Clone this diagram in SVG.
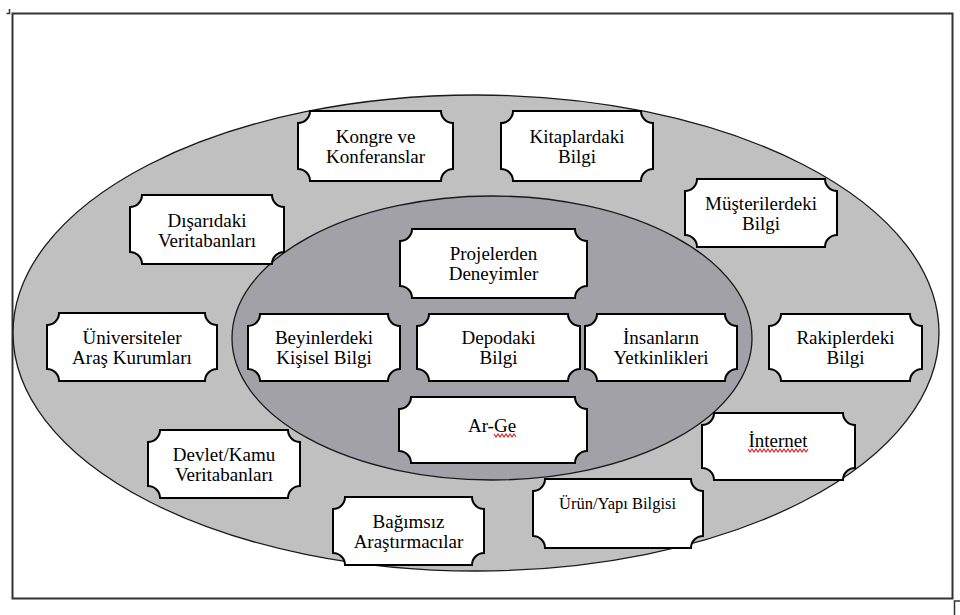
<svg xmlns="http://www.w3.org/2000/svg" width="960" height="615" viewBox="0 0 960 615">
<style>
.bg{fill:#ffffff}
.frame{fill:none;stroke:#333;stroke-width:2}
.outer{fill:#c0c0c0;stroke:#1a1a1a;stroke-width:1.3}
.inner{fill:#a2a1a7;stroke:#1a1a1a;stroke-width:1.3}
.node path{fill:#fff;stroke:#000;stroke-width:2}
.node text{font-family:"Liberation Serif","Times New Roman",serif;font-size:19px;fill:#000;text-anchor:middle}
.sq{fill:none;stroke:#e02020;stroke-width:1.2}
</style>
<rect class="bg" x="0" y="0" width="960" height="615"/>
<g id="frame">
<rect class="frame" x="12.5" y="13.5" width="940" height="585"/>
<path d="M9.5 9 V13.5 H6.5" fill="none" stroke="#333" stroke-width="1.5"/>
<rect x="954.5" y="601" width="10" height="20" fill="none" stroke="#333" stroke-width="1.5"/>
</g>
<g id="regions">
<ellipse class="outer" cx="476" cy="333" rx="463" ry="238"/>
<ellipse class="inner" cx="492" cy="338" rx="260" ry="142"/>
</g>
<g id="connectors"/>
<g id="n-kongre" class="node">
<path d="M310 111 H441 A12 12 0 0 0 453 123 V169 A12 12 0 0 0 441 181 H310 A12 12 0 0 0 298 169 V123 A12 12 0 0 0 310 111 Z"/>
<text x="375.5" y="142.5">Kongre ve</text><text x="375.5" y="162.5">Konferanslar</text>
</g>
<g id="n-kitap" class="node">
<path d="M513 111 H641 A12 12 0 0 0 653 123 V169 A12 12 0 0 0 641 181 H513 A12 12 0 0 0 501 169 V123 A12 12 0 0 0 513 111 Z"/>
<text x="577" y="142.5">Kitaplardaki</text><text x="577" y="162.5">Bilgi</text>
</g>
<g id="n-musteri" class="node">
<path d="M697 179 H825 A12 12 0 0 0 837 191 V235 A12 12 0 0 0 825 247 H697 A12 12 0 0 0 685 235 V191 A12 12 0 0 0 697 179 Z"/>
<text x="761" y="209.5">Müşterilerdeki</text><text x="761" y="229.5">Bilgi</text>
</g>
<g id="n-disaridaki" class="node">
<path d="M142 195 H272 A12 12 0 0 0 284 207 V252 A12 12 0 0 0 272 264 H142 A12 12 0 0 0 130 252 V207 A12 12 0 0 0 142 195 Z"/>
<text x="207" y="226.5">Dışarıdaki</text><text x="207" y="246.5">Veritabanları</text>
</g>
<g id="n-projeler" class="node">
<path d="M412 229 H575 A12 12 0 0 0 587 241 V286 A12 12 0 0 0 575 298 H412 A12 12 0 0 0 400 286 V241 A12 12 0 0 0 412 229 Z"/>
<text x="493.5" y="260">Projelerden</text><text x="493.5" y="280">Deneyimler</text>
</g>
<g id="n-universite" class="node">
<path d="M59 313 H205 A12 12 0 0 0 217 325 V369 A12 12 0 0 0 205 381 H59 A12 12 0 0 0 47 369 V325 A12 12 0 0 0 59 313 Z"/>
<text x="132" y="343.5">Üniversiteler</text><text x="132" y="363.5">Araş Kurumları</text>
</g>
<g id="n-beyin" class="node">
<path d="M260 314 H388 A12 12 0 0 0 400 326 V369 A12 12 0 0 0 388 381 H260 A12 12 0 0 0 248 369 V326 A12 12 0 0 0 260 314 Z"/>
<text x="324" y="344">Beyinlerdeki</text><text x="324" y="364">Kişisel Bilgi</text>
</g>
<g id="n-depo" class="node">
<path d="M429 314 H568 A12 12 0 0 0 580 326 V369 A12 12 0 0 0 568 381 H429 A12 12 0 0 0 417 369 V326 A12 12 0 0 0 429 314 Z"/>
<text x="498.5" y="344">Depodaki</text><text x="498.5" y="364">Bilgi</text>
</g>
<g id="n-insan" class="node">
<path d="M597 314 H725 A12 12 0 0 0 737 326 V369 A12 12 0 0 0 725 381 H597 A12 12 0 0 0 585 369 V326 A12 12 0 0 0 597 314 Z"/>
<text x="661" y="344">İnsanların</text><text x="661" y="364">Yetkinlikleri</text>
</g>
<g id="n-rakip" class="node">
<path d="M781 314 H910 A12 12 0 0 0 922 326 V369 A12 12 0 0 0 910 381 H781 A12 12 0 0 0 769 369 V326 A12 12 0 0 0 781 314 Z"/>
<text x="845.5" y="344">Rakiplerdeki</text><text x="845.5" y="364">Bilgi</text>
</g>
<g id="n-arge" class="node">
<path d="M411 397 H575 A12 12 0 0 0 587 409 V451 A12 12 0 0 0 575 463 H411 A12 12 0 0 0 399 451 V409 A12 12 0 0 0 411 397 Z"/>
<text x="492" y="432">Ar-Ge</text>
<polyline class="sq" points="494,434 496,437 498,434 500,437 502,434 504,437 506,434 508,437 510,434 512,437 514,434 516,437"/>
</g>
<g id="n-devlet" class="node">
<path d="M160 430 H288 A12 12 0 0 0 300 442 V486 A12 12 0 0 0 288 498 H160 A12 12 0 0 0 148 486 V442 A12 12 0 0 0 160 430 Z"/>
<text x="224" y="460.5">Devlet/Kamu</text><text x="224" y="480.5">Veritabanları</text>
</g>
<g id="n-internet" class="node">
<path d="M714 413 H843 A12 12 0 0 0 855 425 V468 A12 12 0 0 0 843 480 H714 A12 12 0 0 0 702 468 V425 A12 12 0 0 0 714 413 Z"/>
<text x="778" y="447">İnternet</text>
<polyline class="sq" points="748,449 750,452 752,449 754,452 756,449 758,452 760,449 762,452 764,449 766,452 768,449 770,452 772,449 774,452 776,449 778,452 780,449 782,452 784,449 786,452 788,449 790,452 792,449 794,452 796,449 798,452 800,449 802,452 804,449 806,452 808,449"/>
</g>
<g id="n-urun" class="node">
<path d="M545 479 H691 A12 12 0 0 0 703 491 V536 A12 12 0 0 0 691 548 H545 A12 12 0 0 0 533 536 V491 A12 12 0 0 0 545 479 Z"/>
<text x="617.5" y="509" style="font-size:16.5px">Ürün/Yapı Bilgisi</text>
</g>
<g id="n-bagimsiz" class="node">
<path d="M345 497 H472 A12 12 0 0 0 484 509 V553 A12 12 0 0 0 472 565 H345 A12 12 0 0 0 333 553 V509 A12 12 0 0 0 345 497 Z"/>
<text x="408.5" y="527.5">Bağımsız</text><text x="408.5" y="547.5">Araştırmacılar</text>
</g>
</svg>
